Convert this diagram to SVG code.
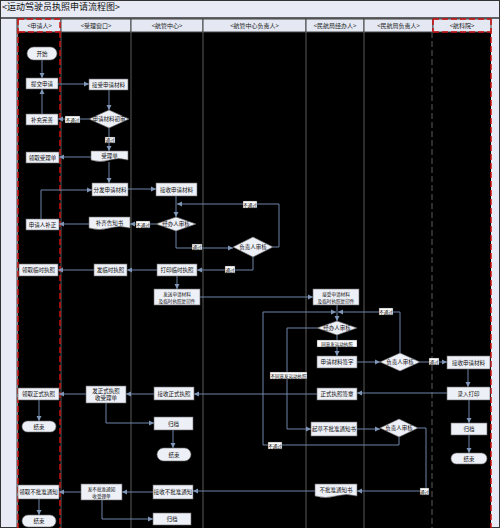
<svg xmlns="http://www.w3.org/2000/svg" width="500" height="528" viewBox="0 0 500 528">
<defs>
<style>
.n{fill:#eef0f7;stroke:#6a6a6a;stroke-width:0.6}
.t{font-family:"Noto Sans CJK SC","Noto Sans",sans-serif;font-size:5.5px;fill:#111;text-anchor:middle;dominant-baseline:central}
.t2{font-family:"Noto Sans CJK SC","Noto Sans",sans-serif;font-size:4.6px;fill:#111;text-anchor:middle;dominant-baseline:central}
.h{font-family:"Noto Sans CJK SC","Noto Sans",sans-serif;font-size:6px;fill:#222;text-anchor:middle;dominant-baseline:central}
.hc{fill:#e4e8f3;stroke:#444;stroke-width:1}
.c{fill:none;stroke:#6f86a8;stroke-width:1;marker-end:url(#a)}
.lb{fill:#fff;stroke:#333;stroke-width:0.4}
.lt{font-family:"Noto Sans CJK SC","Noto Sans",sans-serif;font-size:4.5px;fill:#000;text-anchor:middle;dominant-baseline:central}
.ln{stroke:#5a5a5a;stroke-width:1}
.rd{stroke:#d01010;stroke-width:1.5;stroke-dasharray:6 3;fill:none}
</style>
<marker id="a" markerWidth="6" markerHeight="6" refX="5" refY="3" orient="auto" markerUnits="userSpaceOnUse">
<path d="M0,0.5 L5,3 L0,5.5 z" fill="#7f96b8"/>
</marker>
</defs>

<g id="frame">
<rect x="0" y="0" width="500" height="528" fill="#e8ebf5"/>
<rect x="0.5" y="0.5" width="499" height="527" fill="none" stroke="#333"/>
<text x="2" y="10" style="font-family:'Noto Sans CJK SC','Noto Sans',sans-serif;font-size:9px;fill:#111">&lt;运动驾驶员执照申请流程图&gt;</text>
<line x1="0" y1="18" x2="500" y2="18" stroke="#333" stroke-width="1.5"/>
<rect x="18" y="32" width="473" height="496" fill="#000"/>
<line x1="17" y1="18" x2="17" y2="528" stroke="#333"/>
</g>

<g id="header">
<rect class="hc" x="18" y="19" width="43" height="13"/>
<rect class="hc" x="61" y="19" width="70" height="13"/>
<rect class="hc" x="131" y="19" width="72" height="13"/>
<rect class="hc" x="203" y="19" width="103" height="13"/>
<rect class="hc" x="306" y="19" width="58" height="13"/>
<rect class="hc" x="364" y="19" width="69" height="13"/>
<rect class="hc" x="433" y="19" width="58" height="13"/>
<text class="h" x="39.5" y="25.5">&lt;申请人&gt;</text>
<text class="h" x="96" y="25.5">&lt;受理窗口&gt;</text>
<text class="h" x="167" y="25.5">&lt;航管中心&gt;</text>
<text class="h" x="254.5" y="25.5">&lt;航管中心负责人&gt;</text>
<text class="h" x="335" y="25.5">&lt;民航局经办人&gt;</text>
<text class="h" x="398.5" y="25.5">&lt;民航局负责人&gt;</text>
<text class="h" x="462" y="25.5">&lt;航科院&gt;</text>
</g>

<g id="lanes">
<line class="ln" x1="131" y1="32" x2="131" y2="528"/>
<line class="ln" x1="203" y1="32" x2="203" y2="528"/>
<line class="ln" x1="306" y1="32" x2="306" y2="528"/>
<line class="ln" x1="364" y1="32" x2="364" y2="528"/>
<line class="ln" x1="432" y1="32" x2="432" y2="528" stroke-dasharray="6 3"/>
<line class="ln" x1="61" y1="32" x2="61" y2="528"/>
<path class="rd" d="M18,19 V528 M60,32 V528 M18,19 H60 V32 H18"/>
<path class="rd" d="M491,19 V528 M433,19 H491 M433,32 H491 M433,19 V32"/>
</g>

<g id="connectors">
<path class="c" d="M42,60 V78"/>
<path class="c" d="M58,84 H89"/>
<path class="c" d="M109,90 V110"/>
<path class="c" d="M89,119 H58"/>
<path class="c" d="M42,114 V89"/>
<path class="c" d="M109,128 V151"/>
<path class="c" d="M91,157 H59"/>
<path class="c" d="M109,162 V183"/>
<path class="c" d="M128,189 H156"/>
<path class="c" d="M176,196 V217"/>
<path class="c" d="M156,224 H130"/>
<path class="c" d="M89,224 H59"/>
<path class="c" d="M41,219 V190 H92"/>
<path class="c" d="M176,231 V248 H233"/>
<path class="c" d="M273,247 H279 V204 H177"/>
<path class="c" d="M253,257 V270 H197"/>
<path class="c" d="M157,270 H127"/>
<path class="c" d="M94,270 H58"/>
<path class="c" d="M177,276 V289"/>
<path class="c" d="M200,297 H313"/>
<path class="c" d="M337,305 V321"/>
<path class="c" d="M337,335 V356"/>
<path class="c" d="M317,328 H287 V429 H311"/>
<path class="c" d="M357,362 H380"/>
<path class="c" d="M400,353 V312 H338"/>
<path class="c" d="M420,362 H447"/>
<path class="c" d="M468,369 V387"/>
<path class="c" d="M447,393 H357"/>
<path class="c" d="M317,394 H194"/>
<path class="c" d="M154,394 H126"/>
<path class="c" d="M86,394 H59"/>
<path class="c" d="M39,400 V421"/>
<path class="c" d="M106,403 V423 H154"/>
<path class="c" d="M173,430 V448"/>
<path class="c" d="M469,400 V423"/>
<path class="c" d="M469,435 V453"/>
<path class="c" d="M357,429 H380"/>
<path class="c" d="M399,437 V445 H263 V312 H336"/>
<path class="c" d="M418,428 H426 V491 H357"/>
<path class="c" d="M315,491 H193"/>
<path class="c" d="M153,492 H122"/>
<path class="c" d="M81,492 H59"/>
<path class="c" d="M39,499 V515"/>
<path class="c" d="M102,500 V519 H153"/>
</g>

<g id="labels">
<rect class="lb" x="65" y="116" width="15" height="7"/><text class="lt" x="72.5" y="119.5">不通过</text>
<rect class="lb" x="105" y="137" width="10" height="6"/><text class="lt" x="110" y="140">通过</text>
<rect class="lb" x="136" y="221" width="14" height="7"/><text class="lt" x="143" y="224.5">不通过</text>
<rect class="lb" x="192" y="244" width="10" height="6"/><text class="lt" x="197" y="247">通过</text>
<rect class="lb" x="243" y="201" width="14" height="7"/><text class="lt" x="250" y="204.5">不通过</text>
<rect class="lb" x="225" y="266" width="10" height="7"/><text class="lt" x="230" y="269.5">通过</text>
<rect class="lb" x="317" y="340" width="40" height="7"/><text class="lt" x="337" y="343.5">同意发运动执照</text>
<rect class="lb" x="270" y="372" width="37" height="7"/><text class="lt" x="288.5" y="375.5">不同意发运动执照</text>
<rect class="lb" x="379" y="308" width="14" height="7"/><text class="lt" x="386" y="311.5">不通过</text>
<rect class="lb" x="429" y="358" width="10" height="7"/><text class="lt" x="434" y="361.5">通过</text>
<rect class="lb" x="268" y="442" width="14" height="7"/><text class="lt" x="275" y="445.5">不通过</text>
<rect class="lb" x="420" y="488" width="9" height="7"/><text class="lt" x="424.5" y="491.5">通过</text>
</g>

<g id="start"><rect class="n" x="27" y="47" width="30" height="13" rx="6.5"/><text class="t" x="42" y="53.5">开始</text></g>
<g id="submit"><rect class="n" x="26" y="78" width="32" height="11"/><text class="t" x="42" y="83.5">提交申请</text></g>
<g id="receive"><rect class="n" x="89" y="79" width="39" height="11"/><text class="t" x="108.5" y="84.5">接受申请材料</text></g>
<g id="precheck"><path class="n" d="M89,119 L109,110 L129,119 L109,128 Z"/><text class="t" x="109" y="119">申请材料初审</text></g>
<g id="supplement"><rect class="n" x="26" y="114" width="32" height="11"/><text class="t" x="42" y="119.5">补充完善</text></g>
<g id="slip"><path class="n" d="M91,151 H128 V160 Q118.75,157 109.5,160 T91,160 Z"/><text class="t" x="109.5" y="155.5">受理单</text></g>
<g id="getslip"><rect class="n" x="26" y="152" width="33" height="11"/><text class="t" x="42.5" y="157.5">领取受理单</text></g>
<g id="distribute"><rect class="n" x="92" y="183" width="36" height="13"/><text class="t" x="110" y="189.5">分发申请材料</text></g>
<g id="atcrecv"><rect class="n" x="156" y="183" width="41" height="13"/><text class="t" x="176.5" y="189.5">接收申请材料</text></g>
<g id="atccheck"><path class="n" d="M156,224 L176,217 L196,224 L176,231 Z"/><text class="t" x="176" y="224">经办人审核</text></g>
<g id="notice"><path class="n" d="M89,217 H130 V228 Q119.75,225 109.5,228 T89,228 Z"/><text class="t" x="109.5" y="222.5">补齐告知书</text></g>
<g id="correct"><rect class="n" x="26" y="219" width="33" height="11"/><text class="t" x="42.5" y="224.5">申请人补正</text></g>
<g id="atchead"><path class="n" d="M233,247 L253,237 L273,247 L253,257 Z"/><text class="t" x="253" y="247">负责人审核</text></g>
<g id="printtemp"><rect class="n" x="157" y="264" width="40" height="12"/><text class="t" x="177" y="270">打印临时执照</text></g>
<g id="issuetemp"><rect class="n" x="94" y="264" width="33" height="12"/><text class="t" x="110.5" y="270">发临时执照</text></g>
<g id="gettemp"><rect class="n" x="19" y="264" width="39" height="12"/><text class="t" x="38.5" y="270">领取临时执照</text></g>
<g id="sendcopy"><rect class="n" x="154" y="289" width="46" height="16"/><text class="t2" x="177" y="293.5">发送申请材料</text><text class="t2" x="177" y="300.5">及临时执照复印件</text></g>
<g id="caacrecv"><rect class="n" x="313" y="289" width="46" height="16"/><text class="t2" x="336" y="293.5">接受申请材料</text><text class="t2" x="336" y="300.5">及临时执照复印件</text></g>
<g id="caaccheck"><path class="n" d="M317,328 L337,321 L357,328 L337,335 Z"/><text class="t" x="337" y="328">经办人审核</text></g>
<g id="sign"><rect class="n" x="317" y="356" width="40" height="12"/><text class="t" x="337" y="362">申请材料签字</text></g>
<g id="caachead"><path class="n" d="M380,362 L400,353 L420,362 L400,371 Z"/><text class="t" x="400" y="362">负责人审核</text></g>
<g id="acadrecv"><rect class="n" x="447" y="356" width="43" height="13"/><text class="t" x="468.5" y="362.5">接收申请材料</text></g>
<g id="printlic"><rect class="n" x="447" y="387" width="43" height="13"/><text class="t" x="468.5" y="393.5">录入打印</text></g>
<g id="stamp"><rect class="n" x="317" y="388" width="40" height="12"/><text class="t" x="337" y="394">正式执照签章</text></g>
<g id="recvlic"><rect class="n" x="154" y="387" width="40" height="13"/><text class="t" x="174" y="393.5">接收正式执照</text></g>
<g id="issuelic"><rect class="n" x="86" y="386" width="40" height="17"/><text class="t" x="106" y="391.3">发正式执照</text><text class="t" x="106" y="397.8">收受理单</text></g>
<g id="getlic"><rect class="n" x="18" y="388" width="41" height="12"/><text class="t" x="38.5" y="394">领取正式执照</text></g>
<g id="end1"><rect class="n" x="22" y="421" width="34" height="11" rx="5.5"/><text class="t" x="39" y="426.5">结束</text></g>
<g id="archive1"><rect class="n" x="154" y="417" width="39" height="13"/><text class="t" x="173.5" y="423.5">归档</text></g>
<g id="end2"><rect class="n" x="157" y="448" width="34" height="13" rx="6.5"/><text class="t" x="174" y="454.5">结束</text></g>
<g id="archive2"><rect class="n" x="451" y="423" width="36" height="12"/><text class="t" x="469" y="429">归档</text></g>
<g id="end3"><rect class="n" x="451" y="453" width="36" height="11" rx="5.5"/><text class="t" x="469" y="458.5">结束</text></g>
<g id="draftreject"><rect class="n" x="311" y="422" width="46" height="14"/><text class="t" x="334" y="429">起草不批准通知书</text></g>
<g id="caachead2"><path class="n" d="M380,428 L399,419 L418,428 L399,437 Z"/><text class="t" x="399" y="428">负责人审核</text></g>
<g id="rejectdoc"><path class="n" d="M315,484 H357 V496 Q346.5,493 336,496 T315,496 Z"/><text class="t" x="336" y="489.5">不批准通知书</text></g>
<g id="recvreject"><rect class="n" x="153" y="485" width="40" height="14"/><text class="t" x="173" y="492">接收不批准通知</text></g>
<g id="issuereject"><rect class="n" x="81" y="484" width="41" height="16"/><text class="t2" x="101.5" y="488.5">发不批准通知</text><text class="t2" x="101.5" y="495.5">收受理单</text></g>
<g id="getreject"><rect class="n" x="18" y="485" width="41" height="14"/><text class="t" x="38.5" y="492">领取不批准通知</text></g>
<g id="end4"><rect class="n" x="22" y="515" width="34" height="12" rx="6"/><text class="t" x="39" y="521">结束</text></g>
<g id="archive3"><rect class="n" x="153" y="513" width="38" height="12"/><text class="t" x="172" y="519">归档</text></g>
</svg>
